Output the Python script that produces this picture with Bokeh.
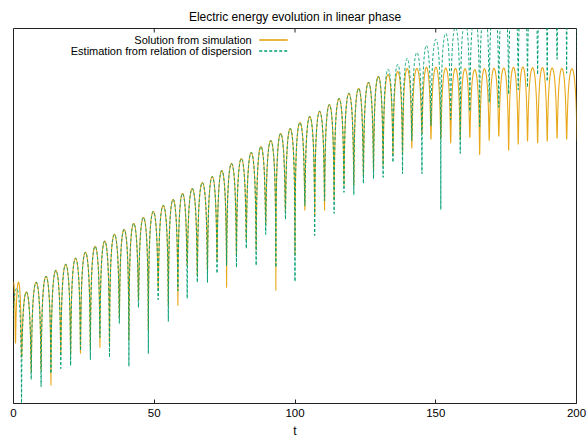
import numpy as np
from bokeh.plotting import figure
from bokeh.models import Range1d, FixedTicker, Label, Arrow
from bokeh.embed import file_html
from bokeh.resources import INLINE

# Times (in plasma periods) of the zeros of the oscillating field,
# common to both curves
dip_t = [2.85, 6.3, 9.8, 13.3, 16.8, 20.3, 23.8, 27.3, 30.7, 34.1,
         37.6, 41.0, 44.4, 47.9, 51.4, 55.0, 58.4, 61.7, 65.3, 68.9,
         72.3, 75.7, 79.2, 82.7, 86.2, 89.6, 93.2, 96.6, 100.0, 103.5,
         107.0, 110.5, 113.9, 117.4, 120.9, 124.3, 127.9, 131.3, 134.8, 138.2,
         141.5, 145.1, 148.3, 151.8, 155.3, 158.7, 162.1, 165.6, 169.0, 172.4,
         175.9, 179.3, 182.6, 186.2, 189.6, 193.1, 196.5, 200.25]

# log10 of the energy at the top of each oscillation during linear growth
# (identical for simulation and estimate)
growth_peak_log = [-9.03, -8.77, -8.61, -8.45, -8.29, -8.13, -7.97, -7.81, -7.67, -7.49,
                   -7.36, -7.20, -7.04, -6.88, -6.72, -6.56, -6.40, -6.27, -6.11, -5.95,
                   -5.79, -5.60, -5.47, -5.31, -5.15, -4.99, -4.80, -4.67, -4.51, -4.35,
                   -4.21, -4.03, -3.87, -3.73, -3.60, -3.44, -3.28]

# Simulation: saturated oscillation tops after t ~ 130
sim_late_peak_log = [-3.23, -3.15, -3.07, -3.07, -3.04, -3.04, -3.06, -3.07, -3.08, -3.10,
                     -3.08, -3.07, -3.06, -3.04, -3.03, -3.05, -3.05, -3.06, -3.07, -3.08]
# Simulation: log10 of the energy at the bottom of each dip
sim_dip_log_main = [-10.77, -11.17, -11.12, -11.52, -10.72, -10.72, -10.67, -10.53, -10.51, -10.45,
                    -9.73, -10.32, -9.25, -10.05, -8.99, -9.39, -9.39, -8.32, -8.59, -8.45,
                    -8.19, -8.91, -8.05, -7.65, -7.92, -7.25, -8.99, -6.85, -8.05, -6.85,
                    -6.99, -6.85, -6.59, -6.19, -6.19, -5.92, -5.79, -5.65, -5.39, -5.33,
                    -5.20, -4.80, -4.96, -4.95, -5.06, -4.97, -4.91, -5.37, -4.99, -4.88,
                    -5.25, -5.09, -5.01, -5.06, -5.01, -4.93, -4.96, -5.00]

# Dispersion-relation estimate: keeps growing exponentially
est_late_peak_log = [-3.09, -2.96, -2.80, -2.64, -2.45, -2.29, -2.13, -1.97, -1.81, -1.65,
                     -1.49, -1.33, -1.17, -1.01, -0.85, -0.69, -0.53, -0.37, -0.21, -0.05]
est_dip_log_main = [-12.19, -11.36, -11.55, -11.20, -11.07, -10.99, -10.59, -10.83, -10.24, -10.77,
                    -9.87, -11.01, -9.44, -10.67, -9.23, -9.81, -8.99, -9.20, -8.77, -8.77,
                    -8.53, -8.32, -8.37, -7.87, -8.32, -7.49, -8.37, -7.09, -8.75, -6.72,
                    -7.52, -6.59, -6.93, -6.37, -6.43, -6.13, -6.00, -5.97, -5.57, -5.87,
                    -4.99, -5.87, -4.59, -6.83, -4.43, -5.33, -4.21, -4.61, -3.97, -4.10,
                    -3.75, -3.63, -3.57, -3.23, -3.41, -2.82, -3.19, -3.00]

# Early transient of each curve before the first common zero
sim_dip_t = [-0.75, 0.7] + dip_t
sim_dip_log = [-10.40, -10.40] + sim_dip_log_main
sim_peak_log = [-8.77, -8.77] + growth_peak_log + sim_late_peak_log

est_dip_t = [-0.64] + dip_t
est_dip_log = [-11.00] + est_dip_log_main
est_peak_log = [-8.93] + growth_peak_log + est_late_peak_log

x_ticks = [0, 50, 100, 150, 200]


def trace(dips_t, dips_log, peaks_log, n=120):
    """Rebuild |E|^2 ~ cos^2 oscillations between successive zeros."""
    ts, ws = [], []
    for k, peak in enumerate(peaks_log):
        ta, tb = dips_t[k], dips_t[k + 1]
        s = np.linspace(0.0, 1.0, n)
        if k > 0:
            s = s[1:]
        floor = 10.0 ** (dips_log[k] + (dips_log[k + 1] - dips_log[k]) * s)
        ws.append(10.0 ** peak * np.sin(np.pi * s) ** 2 + floor)
        ts.append(ta + (tb - ta) * s)
    return np.concatenate(ts), np.concatenate(ws)


t_sim, w_sim = trace(sim_dip_t, sim_dip_log, sim_peak_log)
t_est, w_est = trace(est_dip_t, est_dip_log, est_peak_log)

FONT = "Liberation Sans"
BORDER = "#222222"

p = figure(width=587, height=443, output_backend="svg", toolbar_location=None,
           y_axis_type="log", x_range=Range1d(0, 200), y_range=Range1d(1e-12, 1e-2),
           min_border_left=13, min_border_right=11, min_border_top=28, min_border_bottom=40,
           title="Electric energy evolution in linear phase")
p.title.align = "center"
p.title.text_font = FONT
p.title.text_font_size = "12px"
p.title.text_font_style = "normal"
p.title.text_color = "black"

p.grid.visible = False
p.yaxis.visible = False
p.outline_line_color = BORDER
p.outline_line_width = 1
p.background_fill_color = "white"
p.border_fill_color = "white"

xa = p.xaxis[0]
xa.ticker = FixedTicker(ticks=x_ticks)
xa.axis_line_color = None
xa.major_tick_in = 4
xa.major_tick_out = 0
xa.major_tick_line_color = BORDER
xa.minor_tick_line_color = None
xa.major_label_text_font = FONT
xa.major_label_text_font_size = "11.5px"
xa.major_label_text_color = "black"
xa.major_label_standoff = 5
xa.axis_label = "t"
xa.axis_label_text_font = FONT
xa.axis_label_text_font_size = "12px"
xa.axis_label_text_font_style = "normal"
xa.axis_label_text_color = "black"
xa.axis_label_standoff = 4

ORANGE = "#e69f00"
GREEN = "#009e73"

p.line(t_sim, w_sim, line_color=ORANGE, line_width=1.1, line_alpha=0.9)
p.line(t_est, w_est, line_color=GREEN, line_width=1.0, line_dash="3 2")


def px_to_t(px):
    return (px - 13) / 2.8125


def py_to_w(py):
    return 10 ** (-2 - (py - 28) / 37.5)


# mirrored x tics along the top border
for xt in x_ticks[1:-1]:
    p.add_layout(Arrow(end=None, x_start=xt, x_end=xt, y_start=1e-2, y_end=py_to_w(32),
                       line_color=BORDER, line_width=1))

# key, gnuplot style: text right-aligned, sample line to its right
for text, py, color, dash in [("Solution from simulation", 39.5, ORANGE, "solid"),
                              ("Estimation from relation of dispersion", 50.5, GREEN, "3 2")]:
    p.add_layout(Label(x=px_to_t(251), y=py_to_w(py), text=text, text_align="right",
                       text_baseline="middle", text_font=FONT, text_font_size="11px",
                       text_color="black"))
    p.add_layout(Arrow(end=None, x_start=px_to_t(258.5), x_end=px_to_t(287),
                       y_start=py_to_w(py), y_end=py_to_w(py),
                       line_color=color, line_width=1.5, line_dash=dash))

open("out.html", "w").write(file_html(p, INLINE))
